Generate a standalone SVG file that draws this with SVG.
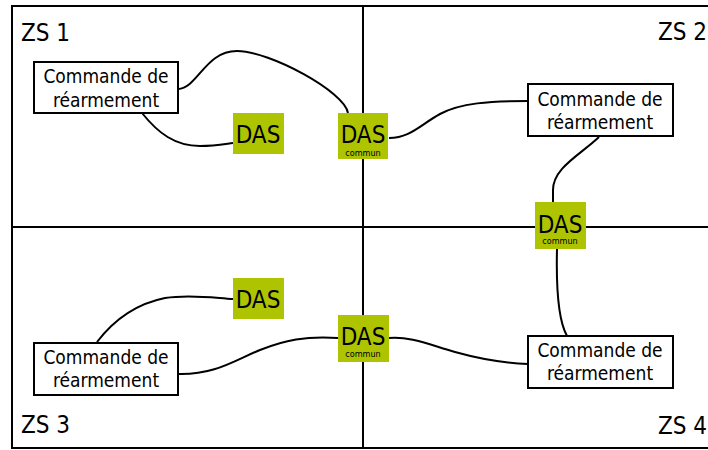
<svg xmlns="http://www.w3.org/2000/svg" width="708" height="450" viewBox="0 0 708 450">
  <style>
    text { font-family: "DejaVu Sans Condensed", "DejaVu Sans", sans-serif; font-stretch: condensed; fill: #000; }
    .zone { font-size: 24px; }
    .cmd rect { fill: #fff; stroke: #000; stroke-width: 2; }
    .cmd text { font-size: 19px; text-anchor: middle; }
    .das rect { fill: #afc400; }
    .das text { text-anchor: middle; }
    .das .big { font-size: 24px; }
    .das .small { font-size: 9px; }
    .grid { fill: none; stroke: #000; stroke-width: 2; }
    #connectors path { fill: none; stroke: #000; stroke-width: 2; }
  </style>

  <!-- zone frame and dividers -->
  <g id="zones">
    <rect class="grid" x="12" y="6" width="710" height="442"/>
    <line class="grid" x1="363" y1="6" x2="363" y2="448"/>
    <line class="grid" x1="12" y1="227" x2="722" y2="227"/>
    <text class="zone" x="21" y="41">ZS 1</text>
    <text class="zone" x="707" y="40" text-anchor="end">ZS 2</text>
    <text class="zone" x="21" y="433">ZS 3</text>
    <text class="zone" x="707" y="434" text-anchor="end">ZS 4</text>
  </g>

  <!-- connectors -->
  <g id="connectors">
    <path d="M178,89 C198,88 205,51 237,51 C270,51 345,92 348,113"/>
    <path d="M142,113 C158,133 175,146 200,146 C215,146 225,144 233,143"/>
    <path d="M389,138 C410,138 420,125 440,114 C460,103 490,101 528,101"/>
    <path d="M599,137 C580,155 553,168 553,190 L553,202"/>
    <path d="M557,249 C556,290 558,320 567,336"/>
    <path d="M389,338 C410,336 430,345 455,352 C480,359 505,363 528,364"/>
    <path d="M178,374 C215,375 235,360 260,350 C285,340 305,336 338,338"/>
    <path d="M97,342 C110,325 130,305 165,298 C190,294 215,298 233,299"/>
  </g>

  <!-- reset commands -->
  <g id="cmd1" class="cmd">
    <rect x="34" y="62" width="144" height="51"/>
    <text x="106" y="83">Commande de</text>
    <text x="106" y="107">réarmement</text>
  </g>
  <g id="cmd2" class="cmd">
    <rect x="528" y="84" width="145" height="52"/>
    <text x="600" y="106">Commande de</text>
    <text x="600" y="129">réarmement</text>
  </g>
  <g id="cmd3" class="cmd">
    <rect x="34" y="343" width="144" height="52"/>
    <text x="106" y="364">Commande de</text>
    <text x="106" y="387">réarmement</text>
  </g>
  <g id="cmd4" class="cmd">
    <rect x="528" y="336" width="145" height="52"/>
    <text x="600" y="357">Commande de</text>
    <text x="600" y="380">réarmement</text>
  </g>

  <!-- DAS nodes -->
  <g id="das1" class="das">
    <rect x="233" y="113" width="51" height="41"/>
    <text class="big" x="258" y="143">DAS</text>
  </g>
  <g id="das3" class="das">
    <rect x="233" y="278" width="51" height="41"/>
    <text class="big" x="258" y="308">DAS</text>
  </g>
  <g id="das-commun-12" class="das">
    <rect x="338" y="113" width="50" height="46"/>
    <text class="big" x="363" y="143">DAS</text>
    <text class="small" x="363" y="156">commun</text>
  </g>
  <g id="das-commun-24" class="das">
    <rect x="535" y="202" width="51" height="47"/>
    <text class="big" x="560" y="233">DAS</text>
    <text class="small" x="560" y="244">commun</text>
  </g>
  <g id="das-commun-34" class="das">
    <rect x="338" y="315" width="51" height="47"/>
    <text class="big" x="363" y="345">DAS</text>
    <text class="small" x="363" y="357">commun</text>
  </g>
</svg>
